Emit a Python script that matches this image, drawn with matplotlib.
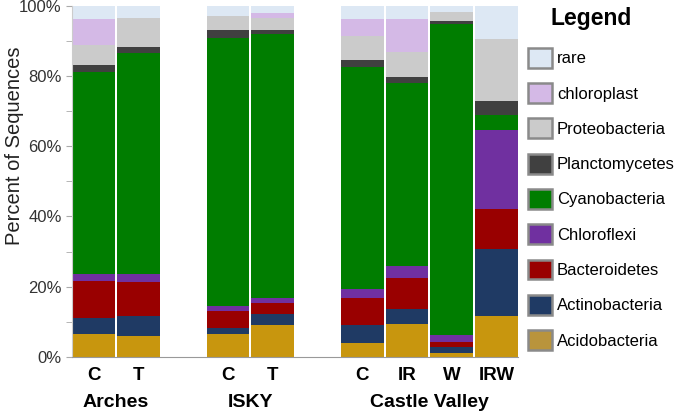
import matplotlib
matplotlib.use("Agg")
import matplotlib.pyplot as plt
import matplotlib.transforms as mtransforms
from matplotlib.patches import Patch
from matplotlib.ticker import MultipleLocator, FuncFormatter

plt.rcParams["font.family"] = ["Liberation Sans", "DejaVu Sans"]

samples = ["C", "T", "C", "T", "C", "IR", "W", "IRW"]
positions = [0, 1, 3, 4, 6, 7, 8, 9]
groups = ["Arches", "ISKY", "Castle Valley"]
group_centers = [0.5, 3.5, 7.5]

# stacked bottom to top
taxa = ["Acidobacteria", "Actinobacteria", "Bacteroidetes", "Chloroflexi",
        "Cyanobacteria", "Planctomycetes", "Proteobacteria", "chloroplast", "rare"]
acidobacteria = [6.5, 6.0, 6.6, 9.0, 3.8, 9.3, 1.1, 11.5]
actinobacteria = [4.7, 5.7, 1.6, 3.2, 5.4, 4.4, 1.6, 19.2]
bacteroidetes = [10.3, 9.6, 4.8, 3.1, 7.6, 8.8, 1.5, 11.5]
chloroflexi = [2.1, 2.4, 1.4, 1.6, 2.4, 3.3, 1.9, 22.3]
cyanobacteria = [57.6, 62.9, 76.5, 75.1, 63.3, 52.1, 88.8, 4.3]
planctomycetes = [1.9, 1.8, 2.1, 1.2, 2.1, 1.7, 0.7, 4.2]
proteobacteria = [5.8, 8.1, 4.2, 3.3, 6.8, 7.3, 2.6, 17.6]
chloroplast = [7.4, 0.0, 0.0, 1.4, 4.7, 9.2, 0.0, 0.0]
rare = [3.7, 3.5, 3.0, 2.1, 3.9, 3.9, 1.8, 9.4]

series = [acidobacteria, actinobacteria, bacteroidetes, chloroflexi, cyanobacteria,
          planctomycetes, proteobacteria, chloroplast, rare]
colors = ["#c8960e", "#1f3a64", "#990000", "#7030a0", "#007d00",
          "#404040", "#cbcbcb", "#d4b9e6", "#dde8f4"]
legend_colors = ["#b9943c", "#1f3a64", "#990000", "#7030a0", "#007d00",
                 "#404040", "#cbcbcb", "#d4b9e6", "#dde8f4"]

fig = plt.figure(figsize=(6.8, 4.13), dpi=100)
ax = fig.add_axes([0.106, 0.136, 0.656, 0.85])

bottoms = [0.0] * len(samples)
for values, color in zip(series, colors):
    ax.bar(positions, values, width=0.955, bottom=bottoms, color=color, linewidth=0)
    bottoms = [b + v for b, v in zip(bottoms, values)]

ax.set_xlim(-0.48, 9.48)
ax.set_ylim(0, 100)
ax.yaxis.set_major_locator(MultipleLocator(20))
ax.yaxis.set_minor_locator(MultipleLocator(10))
ax.yaxis.set_major_formatter(FuncFormatter(lambda v, _: f"{v:.0f}%"))
ax.tick_params(axis="y", which="both", length=4, color="#aaaaaa", labelsize=12,
               labelcolor="#333333")
ax.set_xticks(positions)
ax.set_xticklabels(samples, fontsize=13.5, fontweight="bold")
ax.tick_params(axis="x", length=0, pad=7)
ax.set_ylabel("Percent of Sequences", fontsize=14.5, color="#222222")
ax.yaxis.set_label_coords(-0.108, 0.6)

for side in ["top", "right"]:
    ax.spines[side].set_visible(False)
ax.spines["left"].set_color("#cccccc")
ax.spines["bottom"].set_color("#999999")

trans = mtransforms.blended_transform_factory(ax.transData, fig.transFigure)
for name, cx in zip(groups, group_centers):
    ax.text(cx, 0.025, name, transform=trans, ha="center", va="center",
            fontsize=14, fontweight="bold")

fig.text(591 / 680, 1 - 18 / 413, "Legend", ha="center", va="center",
         fontsize=16.5, fontweight="bold")
handles = [Patch(facecolor=c, edgecolor="#8a8a8a", linewidth=1.8, label=t)
           for t, c in zip(taxa, legend_colors)][::-1]
leg = fig.legend(handles=handles, loc="upper left", bbox_to_anchor=(0.776, 0.884),
                 frameon=False, fontsize=12, borderpad=0, borderaxespad=0,
                 handlelength=1.45, handleheight=1.45, handletextpad=0.3,
                 labelspacing=0.93)

fig.savefig("out.png", dpi=100)
